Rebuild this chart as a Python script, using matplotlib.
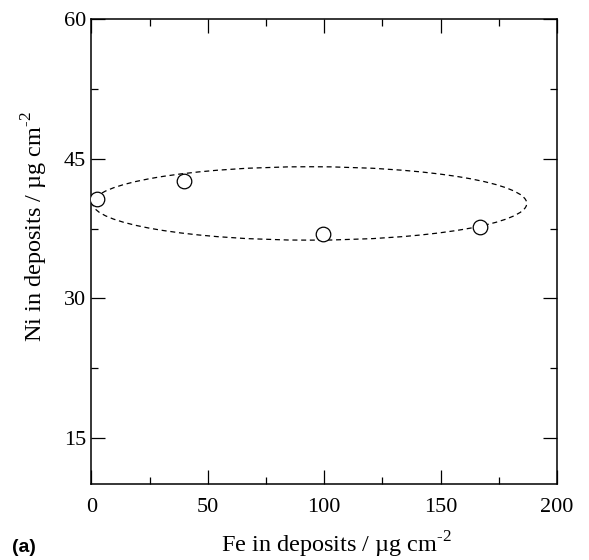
import matplotlib
matplotlib.use("Agg")
import matplotlib.pyplot as plt
from matplotlib.patches import Ellipse
from matplotlib.ticker import MultipleLocator

fe = [2.5, 39.9, 99.3, 166.8]
ni = [40.7, 42.6, 36.9, 37.7]

# ellipse guide
ell_center = (93.8, 40.2)
ell_width = 186.4
ell_height = 7.9

xticks = [0, 50, 100, 150, 200]
yticks = [15, 30, 45, 60]

plt.rcParams['font.family'] = ['Liberation Serif', 'DejaVu Serif']
plt.rcParams['mathtext.fontset'] = 'custom'
plt.rcParams['mathtext.rm'] = 'Liberation Serif'

fig = plt.figure(figsize=(5.89, 5.60), dpi=100)
ax = fig.add_axes([0.1553, 0.1357, 0.7904, 0.8295])

ax.plot(fe, ni, linestyle='none', marker='o', markersize=10.5,
        markerfacecolor='white', markeredgecolor='black', markeredgewidth=0.9, zorder=3)

e = Ellipse(ell_center, ell_width, ell_height, fill=False, edgecolor='black',
            linewidth=0.9, linestyle=(0, (4, 3)), zorder=2)
ax.add_patch(e)

ax.set_xlim(0, 200)
ax.set_ylim(10, 60)
ax.set_xticks(xticks)
ax.set_yticks(yticks)
ax.xaxis.set_minor_locator(MultipleLocator(25))
ax.yaxis.set_minor_locator(MultipleLocator(7.5))
ax.tick_params(which='both', direction='in', top=True, right=True, labelsize=16, width=0.9)
ax.tick_params(which='major', length=10)
ax.tick_params(which='minor', length=5)
ax.tick_params(axis='x', which='major', pad=10)
ax.tick_params(axis='y', which='major', pad=4)
for s in ax.spines.values():
    s.set_linewidth(1.1)

label_x = r'Fe in deposits / µg cm$^{\text{-2}}$'
label_y = r'Ni in deposits / µg cm$^{\text{-2}}$'
fig.text(336.5/589, 1 - 552/560, label_x, ha='center', va='baseline', fontsize=17.5)
fig.text(43/589, 1 - 226.5/560, label_y, ha='center', va='baseline',
         fontsize=17.5, rotation=90, rotation_mode='anchor')
fig.text(12/589, 1 - 552/560, '(a)', ha='left', va='baseline', fontsize=14, fontweight='bold',
         family=['Liberation Sans', 'DejaVu Sans'])

fig.savefig('out.png', dpi=100)
